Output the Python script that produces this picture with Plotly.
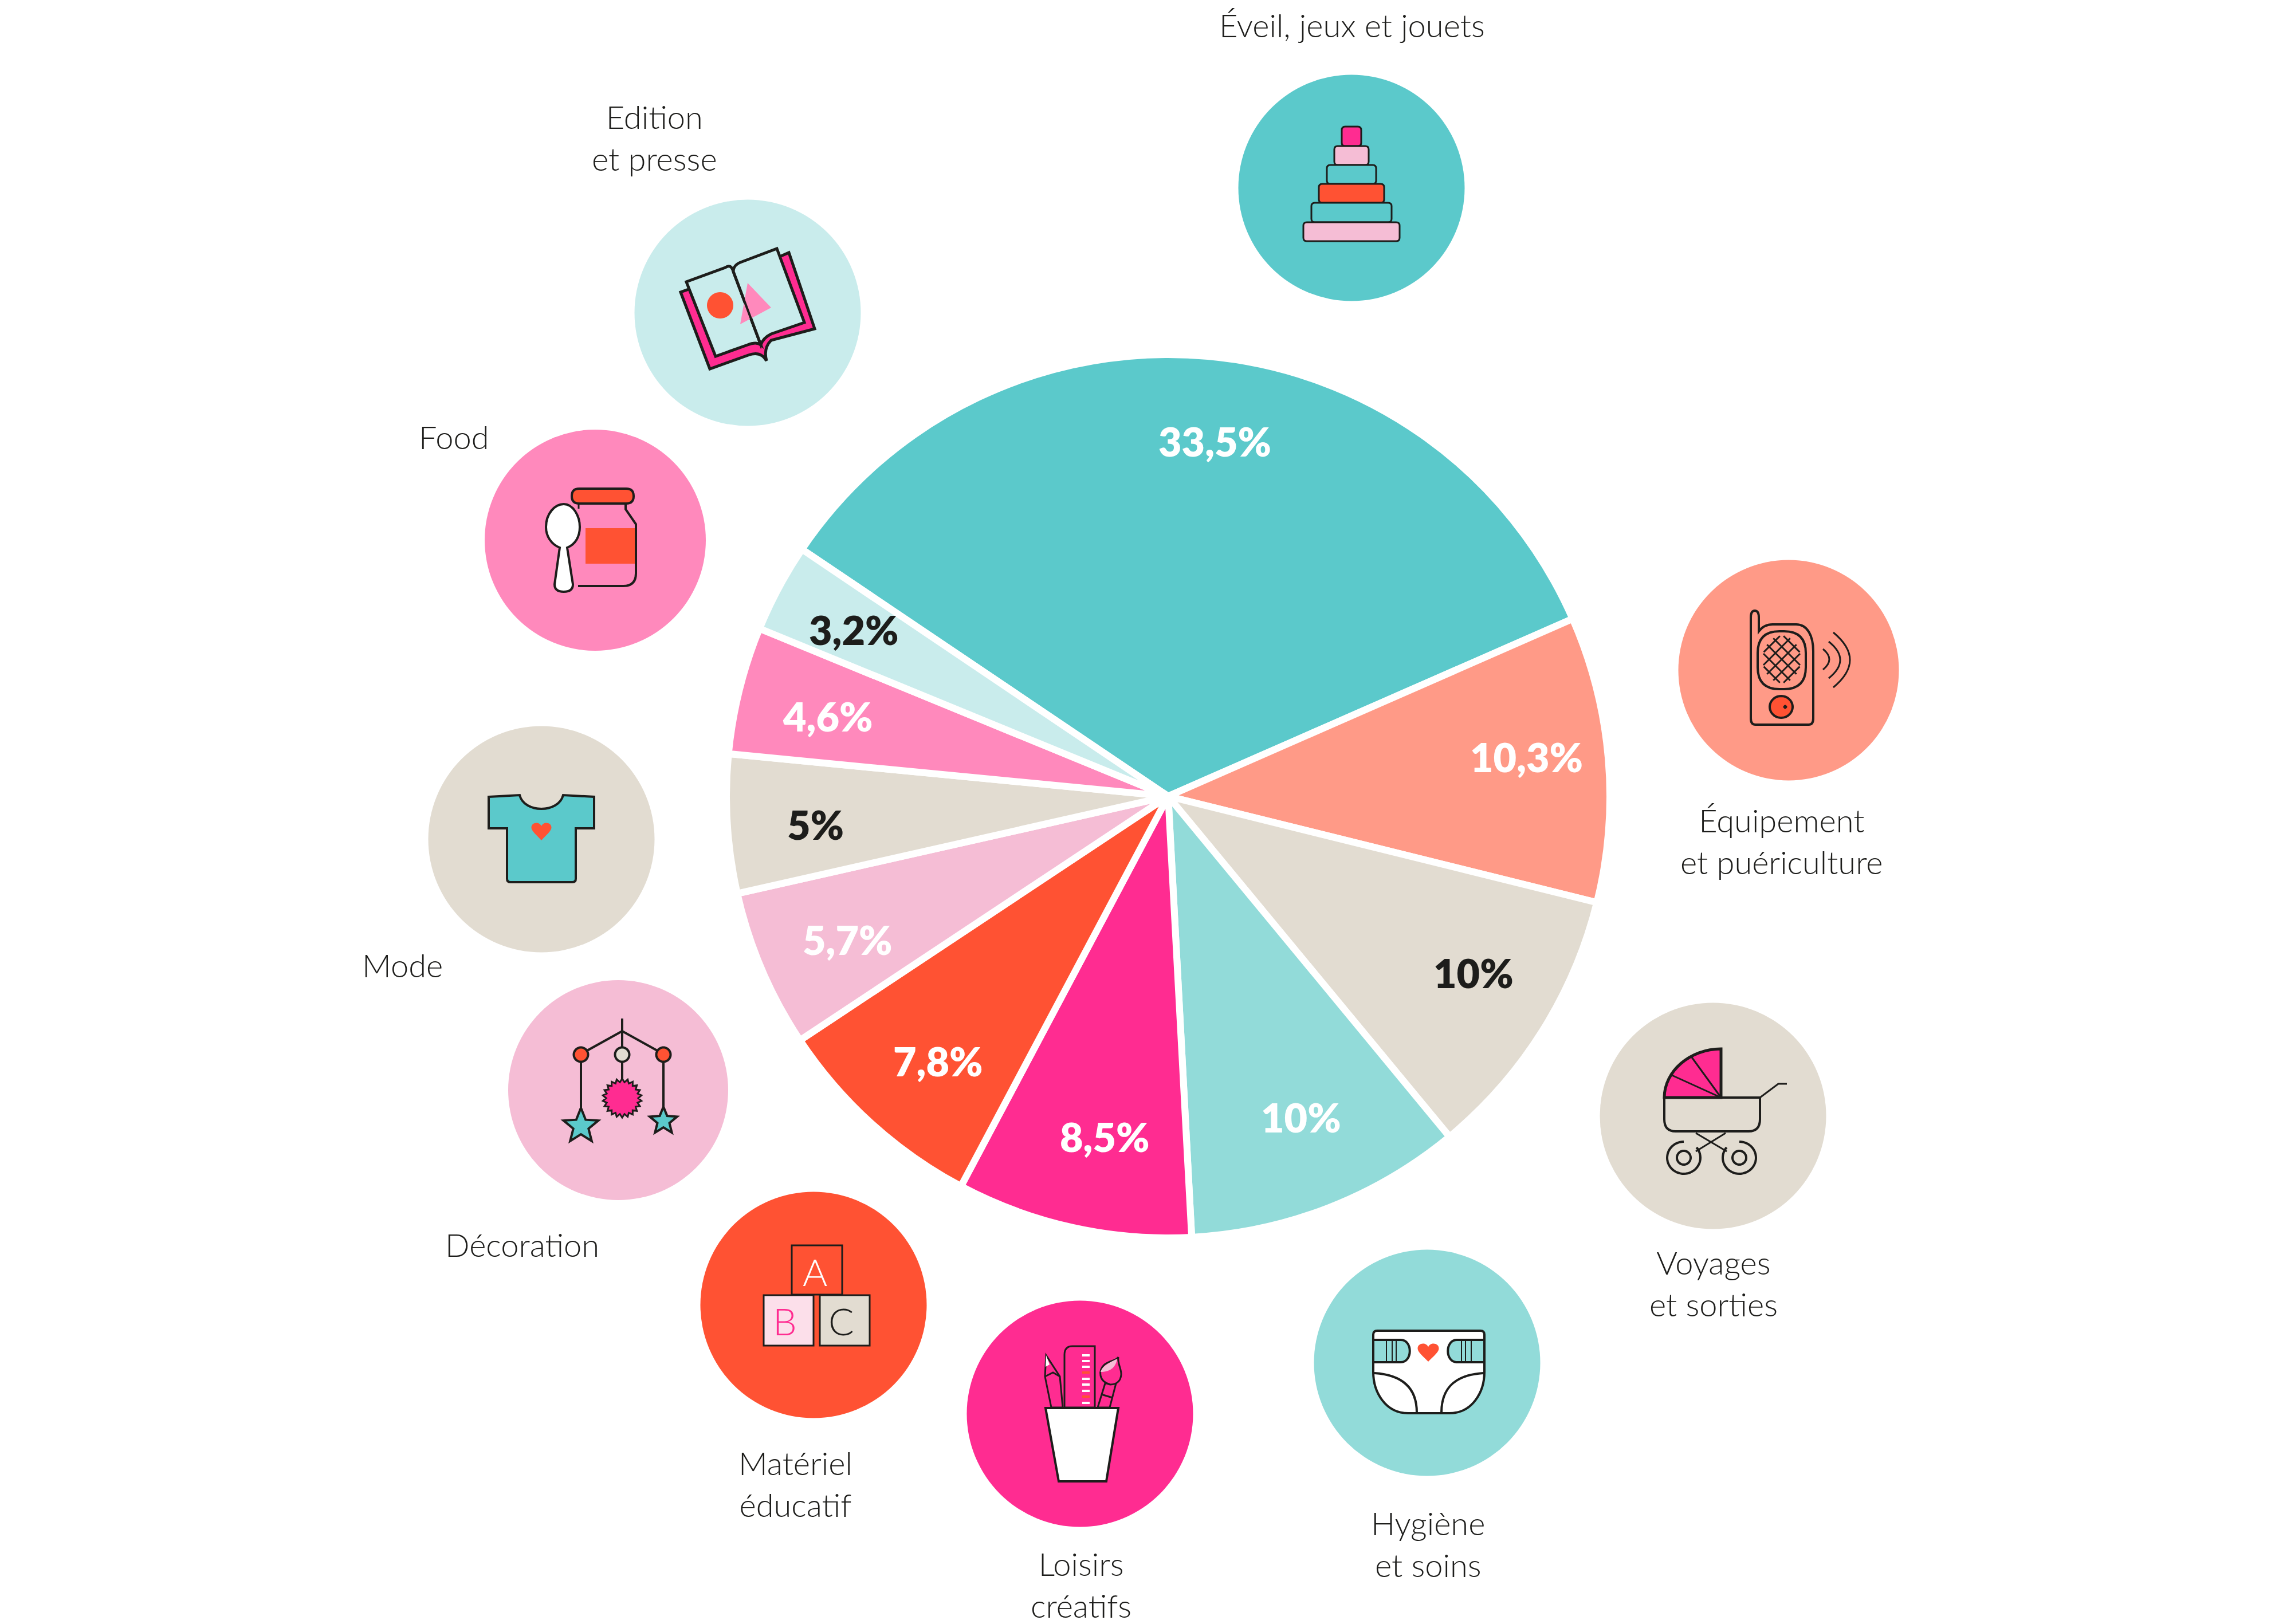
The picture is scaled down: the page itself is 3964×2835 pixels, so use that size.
import math
import plotly.graph_objects as go

W, H = 3964, 2835

# donnees du camembert
categories = ["Éveil, jeux et jouets", "Équipement et puériculture", "Voyages et sorties",
              "Hygiène et soins", "Loisirs créatifs", "Matériel éducatif",
              "Décoration", "Mode", "Food", "Edition et presse"]
values = [33.5, 10.3, 10, 10, 8.5, 7.8, 5.7, 5, 4.6, 3.2]
value_labels = ["33,5%", "10,3%", "10%", "10%", "8,5%", "7,8%", "5,7%", "5%", "4,6%", "3,2%"]
slice_colors = ["#5bc9cb", "#ff9a87", "#e2dcd1", "#92dbd9", "#ff2c91",
                "#ff5233", "#f5bdd5", "#e2dcd1", "#ff89bc", "#c9ecec"]
label_colors = ["#ffffff", "#ffffff", "#1d1d1b", "#ffffff", "#ffffff",
                "#ffffff", "#ffffff", "#1d1d1b", "#ffffff", "#1d1d1b"]

# bulles autour du camembert
bubble_x = [2359, 3122, 2990, 2491, 1885, 1420, 1079, 945, 1039, 1305]
bubble_y = [328, 1170, 1948, 2379, 2468, 2278, 1903, 1465, 943, 546]
bubble_size = [395, 385, 395, 395, 395, 395, 384, 395, 386, 395]

category_text = ["Éveil, jeux et jouets", "Équipement<br>et puériculture", "Voyages<br>et sorties",
                 "Hygiène<br>et soins", "Loisirs<br>créatifs", "Matériel<br>éducatif",
                 "Décoration", "Mode", "Food", "Edition<br>et presse"]
text_x = [2360, 3110, 2991, 2492, 1887, 1388, 911, 702, 792, 1142]
text_y = [43, 1468, 2240, 2695, 2766, 2590, 2172, 1684, 762, 240]

DARK = "#1d1d1b"
CX, CY, R = 2039, 1390, 771
ROTATION = -56

# petits decalages des pourcentages par rapport au rayon
nudge_x = [18, 3, 3, 0, 15, 5, 0, -8, -3, -13]
nudge_y = [-6, -16, -20, -15, -8, 5, 8, 10, 8, 0]

shapes = []


def add(path, fill="rgba(0,0,0,0)", line=DARK, width=4):
    shapes.append(dict(type="path", path=path, xref="x", yref="y", layer="above",
                       fillcolor=fill, line=dict(color=line, width=width)))


def poly(points, close=True):
    d = "M " + " L ".join(f"{x} {y}" for x, y in points)
    return d + (" Z" if close else "")


def rrect(x0, y0, x1, y1, r):
    return (f"M {x0+r} {y0} L {x1-r} {y0} Q {x1} {y0} {x1} {y0+r} L {x1} {y1-r} Q {x1} {y1} {x1-r} {y1} "
            f"L {x0+r} {y1} Q {x0} {y1} {x0} {y1-r} L {x0} {y0+r} Q {x0} {y0} {x0+r} {y0} Z")


def arc(cx, cy, rx, ry, a0=0, a1=360, close=True):
    n = 48
    pts = []
    for i in range(n + 1):
        a = math.radians(a0 + (a1 - a0) * i / n)
        pts.append((round(cx + rx * math.cos(a), 1), round(cy + ry * math.sin(a), 1)))
    return poly(pts, close)


def star(cx, cy, r_out, r_in, n, rot=-90):
    pts = []
    for i in range(2 * n):
        a = math.radians(rot + i * 180 / n)
        r = r_out if i % 2 == 0 else r_in
        pts.append((round(cx + r * math.cos(a), 1), round(cy + r * math.sin(a), 1)))
    return poly(pts)


def heart(cx, top, w, h):
    b = top + h
    m = w / 2
    return (f"M {cx} {b} C {cx-m*.5} {b-h*.3} {cx-m} {b-h*.5} {cx-m} {top+h*.3} "
            f"C {cx-m} {top} {cx-m*.2} {top-h*.05} {cx} {top+h*.22} "
            f"C {cx+m*.2} {top-h*.05} {cx+m} {top} {cx+m} {top+h*.3} "
            f"C {cx+m} {b-h*.5} {cx+m*.5} {b-h*.3} {cx} {b} Z")


def draw_rings():
    rows = [(17, 221, 255, "#ff2c91"), (30, 255, 288, "#f5bdd5"), (43, 288, 321, "#5bc9cb"),
            (57, 321, 354, "#ff5233"), (70, 354, 388, "#5bc9cb"), (84, 388, 421, "#f5bdd5")]
    for half, y0, y1, col in rows:
        add(rrect(2359 - half, y0, 2359 + half, y1, 6), col, width=3)


def draw_book():
    add("M 1188 510 L 1239 644 L 1306 620 Q 1328 612 1338 630 Q 1332 608 1346 594 L 1422 574 L 1377 441 L 1361 448 Z",
        "#ff2c91", width=5)
    add("M 1198 492 L 1249 622 L 1305 602 Q 1320 596 1328 602 L 1280 474 Q 1276 460 1266 467 Z", "#c9ecec", width=5)
    add("M 1280 474 Q 1280 462 1295 457 L 1356 434 L 1404 563 L 1346 583 Q 1332 590 1328 602 Z", "#c9ecec", width=5)
    add(poly([(1305, 494), (1346, 537), (1292, 566)]), "#ff89bc", width=0)
    add(arc(1257, 533, 23, 23), "#ff5233", width=0)
    add(poly([(1280, 474), (1328, 602)], close=False), width=4)


def draw_food():
    add(poly([(1022, 922), (1108, 922), (1108, 984), (1022, 984)]), "#ff5233", width=0)
    add("M 1092 879 L 1092 889 L 1110 915 L 1110 1001 Q 1110 1023 1088 1023 L 1009 1023", width=4)
    add(poly([(1010, 879), (1010, 888)], close=False), width=3)
    add(rrect(998, 853, 1106, 879, 13), "#ff5233", width=4)
    add("M 977 956 C 962 950 953 936 953 920 C 953 897 968 880 984 880 C 1000 880 1012 900 1012 920 "
        "C 1012 936 1005 950 990 956 L 1000 1020 Q 1000 1033 984 1033 Q 968 1033 968 1020 Z", "#ffffff", width=4)


def draw_shirt():
    add("M 853 1391 L 907 1388 C 915 1420 975 1420 983 1388 L 1037 1391 L 1037 1446 L 1005 1446 L 1005 1534 "
        "Q 1005 1540 999 1540 L 891 1540 Q 885 1540 885 1534 L 885 1446 L 853 1446 Z", "#5bc9cb", width=4)
    add(heart(945, 1435, 35, 32), "#ff5233", width=0)


def draw_mobile():
    add(poly([(1086, 1778), (1086, 1890)], close=False))
    add(poly([(1014, 1840), (1086, 1800), (1158, 1840)], close=False))
    add(poly([(1014, 1840), (1014, 1940)], close=False))
    add(poly([(1158, 1840), (1158, 1935)], close=False))
    for x, col in [(1014, "#ff5233"), (1086, "#e2dcd1"), (1158, "#ff5233")]:
        add(arc(x, 1841, 12.5, 12.5), col)
    add(star(1086, 1917, 34, 28, 22), "#ff2c91", width=3)
    add(star(1014, 1966, 32, 14, 5), "#5bc9cb")
    add(star(1158, 1957, 25, 11, 5), "#5bc9cb")


def draw_radio():
    add("M 3056 1254 L 3056 1078 Q 3056 1066 3063 1066 Q 3070 1066 3070 1078 L 3070 1102 "
        "C 3076 1094 3084 1090 3094 1090 L 3135 1090 C 3155 1090 3165 1110 3165 1137 L 3165 1254 "
        "Q 3165 1265 3157 1265 L 3064 1265 Q 3056 1265 3056 1254 Z", width=4)
    add(rrect(3068, 1102, 3152, 1203, 38), width=4)
    # grille du haut-parleur : diagonales coupees sur une ellipse
    cx, cy, rx, ry = 3110, 1151, 33, 41
    for c in (-44, -22, 0, 22, 44):
        a = 1 / rx ** 2 + 1 / ry ** 2
        b = 2 * c / ry ** 2
        d = c ** 2 / ry ** 2 - 1
        root = math.sqrt(b * b - 4 * a * d)
        x1, x2 = (-b - root) / (2 * a), (-b + root) / (2 * a)
        add(poly([(round(cx + x1, 1), round(cy + x1 + c, 1)), (round(cx + x2, 1), round(cy + x2 + c, 1))], close=False), width=3)
        add(poly([(round(cx + x1, 1), round(cy - x1 - c, 1)), (round(cx + x2, 1), round(cy - x2 - c, 1))], close=False), width=3)
    add(arc(3109, 1234, 20, 19), "#ff5233")
    add(arc(3116, 1234, 3, 3), DARK, width=1)
    add("M 3182 1133 Q 3204 1151 3182 1169", width=3)
    add("M 3192 1120 Q 3232 1152 3192 1184", width=3)
    add("M 3200 1104 Q 3258 1152 3200 1200", width=3)


def draw_pram():
    add("M 3004 1831 L 3004 1916 L 2905 1916 C 2905 1870 2950 1831 3004 1831 Z", "#ff2c91", width=5)
    add(poly([(3004, 1916), (2951, 1843)], close=False), width=3)
    add(poly([(3004, 1916), (2916, 1876)], close=False), width=3)
    add("M 2905 1916 L 2905 1954 Q 2905 1975 2925 1975 L 3052 1975 Q 3072 1975 3072 1954 L 3072 1916 Z", width=4)
    add(poly([(3072, 1916), (3104, 1892), (3119, 1892)], close=False), width=3)
    add(poly([(2960, 1978), (3014, 2010)], close=False), width=3)
    add(poly([(3012, 1978), (2960, 2010)], close=False), width=3)
    add(arc(2939, 2021, 29, 28, -40, 270, close=False), width=4)
    add(arc(3036, 2021, 29, 28, -90, 220, close=False), width=4)
    add(arc(2939, 2021, 12, 12), width=4)
    add(arc(3036, 2021, 12, 12), width=4)


def draw_blocks():
    add(poly([(1382, 2174), (1470, 2174), (1470, 2260), (1382, 2260)]), width=3)
    add(poly([(1333, 2261), (1420, 2261), (1420, 2349), (1333, 2349)]), "#fcdfea", width=3)
    add(poly([(1431, 2261), (1518, 2261), (1518, 2349), (1431, 2349)]), "#e2dcd1", width=3)


def draw_cup():
    add("M 1858 2457 L 1858 2365 Q 1858 2350 1872 2350 L 1911 2350 L 1911 2457 Z", "#ff2c91", width=3)
    for i, y in enumerate([2366, 2376, 2386, 2396, 2407, 2417, 2428, 2438, 2449]):
        col = "#ff5233" if i in (3, 7) else "#ffffff"
        add(poly([(1889, y), (1902, y)], close=False), line=col, width=4)
    add(poly([(1826, 2366), (1824, 2403), (1835, 2457), (1855, 2457), (1850, 2403)]), "#ff2c91", width=3)
    add(poly([(1824, 2403), (1838, 2396), (1850, 2403)], close=False), width=3)
    add(poly([(1826, 2366), (1825, 2386), (1832, 2382)]), "#ffffff", width=0)
    add(poly([(1929, 2415), (1916, 2457), (1937, 2457), (1948, 2415)]), "#ff2c91", width=3)
    add(poly([(1922, 2434), (1942, 2440)], close=False), width=3)
    add("M 1938 2417 C 1918 2412 1916 2392 1928 2382 C 1938 2374 1948 2376 1952 2369 "
        "C 1950 2380 1958 2390 1957 2400 C 1956 2410 1950 2417 1938 2417 Z", "#ff2c91", width=3)
    add("M 1921 2395 C 1924 2384 1938 2378 1950 2372 C 1948 2385 1940 2395 1921 2395 Z", "#f5bdd5", width=0)
    add(poly([(1825, 2458), (1952, 2458), (1931, 2586), (1848, 2586)]), "#ffffff", width=4)


def draw_diaper():
    add("M 2397 2330 Q 2397 2323 2404 2323 L 2584 2323 Q 2591 2323 2591 2330 L 2591 2395 "
        "C 2591 2430 2570 2467 2530 2467 L 2458 2467 C 2418 2467 2397 2430 2397 2395 Z", "#ffffff", width=4)
    add("M 2397 2339 L 2445 2339 C 2466 2339 2466 2378 2445 2378 L 2397 2378 Z", "#92dbd9", width=4)
    add("M 2591 2339 L 2543 2339 C 2522 2339 2522 2378 2543 2378 L 2591 2378 Z", "#92dbd9", width=4)
    for x in (2420, 2430, 2437, 2551, 2558, 2568):
        add(poly([(x, 2339), (x, 2378)], close=False), width=2)
    add("M 2399 2397 C 2445 2400 2473 2420 2473 2466", width=4)
    add("M 2589 2397 C 2543 2400 2516 2420 2516 2466", width=4)
    add(heart(2493, 2344, 37, 33), "#ff5233", width=0)


draw_rings()
draw_book()
draw_food()
draw_shirt()
draw_mobile()
draw_radio()
draw_pram()
draw_blocks()
draw_cup()
draw_diaper()

fig = go.Figure()

fig.add_trace(go.Scatter(
    x=bubble_x, y=bubble_y, mode="markers", hoverinfo="skip", showlegend=False,
    marker=dict(size=bubble_size, sizemode="diameter", color=slice_colors, opacity=1, line=dict(width=0)),
))

fig.add_trace(go.Pie(
    labels=categories, values=values, sort=False, direction="clockwise", rotation=ROTATION,
    textinfo="none", hoverinfo="skip", showlegend=False,
    marker=dict(colors=slice_colors, line=dict(color="#ffffff", width=12)),
    domain=dict(x=[(CX - R) / W, (CX + R) / W], y=[1 - (CY + R) / H, 1 - (CY - R) / H]),
))

annotations = []
for txt, x, y in zip(category_text, text_x, text_y):
    annotations.append(dict(x=x, y=y, xref="x", yref="y", text=txt, showarrow=False,
                            font=dict(family="Lato", size=56, color=DARK, weight=300)))

# les pourcentages suivent les angles des parts
total = sum(values)
cum = 0
for v, txt, col, nx, ny in zip(values, value_labels, label_colors, nudge_x, nudge_y):
    mid = math.radians(ROTATION + (cum + v / 2) / total * 360)
    cum += v
    annotations.append(dict(x=CX + 8 + 0.8 * R * math.sin(mid) + nx, y=CY - 0.8 * R * math.cos(mid) + ny,
                            xref="x", yref="y", text=txt, showarrow=False,
                            font=dict(family="Lato", size=70, color=col, weight=800)))

for letter, x, y, col in [("A", 1422, 2219, "#ffffff"), ("B", 1370, 2305, "#ff2c91"), ("C", 1468, 2305, DARK)]:
    annotations.append(dict(x=x, y=y, xref="x", yref="y", text=letter, showarrow=False,
                            font=dict(family="Lato", size=66, color=col, weight=300)))

fig.update_layout(
    width=W, height=H, margin=dict(l=0, r=0, t=0, b=0),
    paper_bgcolor="#ffffff", plot_bgcolor="#ffffff",
    xaxis=dict(range=[0, W], visible=False, fixedrange=True),
    yaxis=dict(range=[H, 0], visible=False, fixedrange=True),
    shapes=shapes, annotations=annotations,
)

# la page garde sinon la marge par defaut du navigateur
fig.write_html("out.html", config={"displayModeBar": False},
               post_script="document.body.style.margin = '0';")
